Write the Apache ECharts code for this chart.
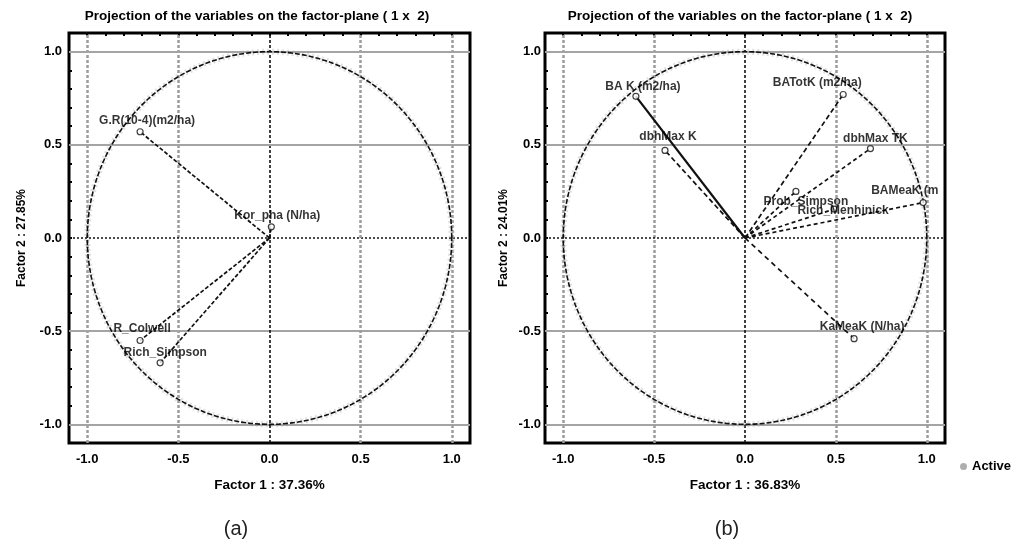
<!DOCTYPE html>
<html>
<head>
<meta charset="utf-8">
<script src="https://cdn.jsdelivr.net/npm/echarts@6/dist/echarts.min.js"></script>
<style>
  html, body { margin: 0; padding: 0; background: #fff; }
  #chart { width: 1026px; height: 544px; }
</style>
</head>
<body>
<div id="chart"></div>
<script>
// axis values
const axisRange = [-1.1, 1.1];
const tickLabels = [-1.0, -0.5, 0.0, 0.5, 1.0];
const minorTicks = [-1.0, -0.9, -0.8, -0.7, -0.6, -0.5, -0.4, -0.3, -0.2, -0.1, 0.0,
  0.1, 0.2, 0.3, 0.4, 0.5, 0.6, 0.7, 0.8, 0.9, 1.0];
const circleRadius = 1;

const panelTitle = 'Projection of the variables on the factor-plane ( 1 x  2)';
const xNames = ['Factor 1 : 37.36%', 'Factor 1 : 36.83%'];
const yNames = ['Factor 2 : 27.85%', 'Factor 2 : 24.01%'];
const captions = ['(a)', '(b)'];

// panel (a)
const leftNames = ['G.R(10-4)(m2/ha)', 'Kor_pha (N/ha)', 'R_Colwell', 'Rich_Simpson'];
const leftX = [-0.71, 0.01, -0.71, -0.60];
const leftY = [0.57, 0.06, -0.55, -0.67];

// panel (b)
const rightNames = ['BA K (m2/ha)', 'BATotK (m2/ha)', 'dbhMax K', 'dbhMax TK',
  'BAMeaK (m2/ha)', 'Prob_Simpson', 'Rich_Menhinick', 'KaMeaK (N/ha)'];
const rightX = [-0.60, 0.54, -0.44, 0.69, 0.98, 0.28, 0.49, 0.60];
const rightY = [0.76, 0.77, 0.47, 0.48, 0.19, 0.25, 0.155, -0.54];

// label placement / line look, per panel
const leftOffsets = [[7, -11], [6, -11], [2, -12], [5, -10]];
const rightOffsets = [[7, -10], [-26, -12], [3, -14], [5, -10], [-52, -12], [10, 10], [9, 2], [8, -12]];
const leftDash = [[4, 2], [4, 2], [4, 2], [4, 2]];
const rightDash = [null, [5, 3], [5, 3], [4, 3], [4, 3], [4, 3], [4, 3], [5, 4]];

const FONT = '"Liberation Sans", Arial, sans-serif';
const grids = [
  { left: 69, top: 33, width: 401, height: 410 },
  { left: 545, top: 33, width: 400, height: 410 }
];

const myChart = echarts.init(document.getElementById('chart'), null, { renderer: 'canvas' });

function gridMarkLines() {
  const out = [];
  tickLabels.forEach(function (v) {
    if (v === 0) {
      const zeroStyle = { color: '#111', width: 1.6, type: [3, 2] };
      out.push([{ coord: [v, axisRange[0]], lineStyle: zeroStyle }, { coord: [v, axisRange[1]] }]);
      out.push([{ coord: [axisRange[0], v], lineStyle: { color: '#111', width: 1.5, type: [2, 2] } },
        { coord: [axisRange[1], v] }]);
    } else {
      out.push({ xAxis: v, lineStyle: { color: '#9c9c9c', width: 2.5, type: [3, 2] } });
      out.push({ yAxis: v, lineStyle: { color: '#a4a4a4', width: 2, type: 'solid' } });
    }
  });
  return out;
}

const xAxis = [], yAxis = [], series = [], title = [];
const boldText = function (size) {
  return { color: '#000', fontWeight: 'bold', fontSize: size, fontFamily: FONT };
};

[0, 1].forEach(function (p) {
  const names = p === 0 ? leftNames : rightNames;
  const xs = p === 0 ? leftX : rightX;
  const ys = p === 0 ? leftY : rightY;
  const offs = p === 0 ? leftOffsets : rightOffsets;
  const dashes = p === 0 ? leftDash : rightDash;

  xAxis.push({
    type: 'value', gridIndex: p, position: 'bottom',
    min: axisRange[0], max: axisRange[1],
    axisLine: { show: false, onZero: false },
    axisTick: { show: false },
    splitLine: { show: false },
    axisLabel: Object.assign({
      customValues: tickLabels, margin: 10,
      formatter: function (v) { return v.toFixed(1); }
    }, boldText(13)),
    name: xNames[p], nameLocation: 'middle', nameGap: 35,
    nameTextStyle: boldText(13.5)
  });
  xAxis.push({
    type: 'value', gridIndex: p, position: 'top',
    min: axisRange[0], max: axisRange[1],
    axisLine: { show: false, onZero: false },
    axisTick: { show: true, inside: true, length: 3, customValues: minorTicks,
      lineStyle: { color: '#000', width: 2 } },
    axisLabel: { show: false },
    splitLine: { show: false }
  });
  yAxis.push({
    type: 'value', gridIndex: p, position: 'left',
    min: axisRange[0], max: axisRange[1],
    axisLine: { show: false, onZero: false },
    axisTick: { show: true, inside: true, length: 3, customValues: minorTicks,
      lineStyle: { color: '#000', width: 2 } },
    splitLine: { show: false },
    axisLabel: Object.assign({
      customValues: tickLabels, margin: p === 0 ? 7 : 4,
      formatter: function (v) { return v.toFixed(1); }
    }, boldText(13)),
    name: yNames[p], nameLocation: 'middle', nameGap: p === 0 ? 41 : 35,
    nameTextStyle: boldText(12)
  });

  // unit circle + grid lines
  series.push({
    type: 'custom', xAxisIndex: 2 * p, yAxisIndex: p, data: [[0, 0]],
    silent: true, z: 2, clip: false,
    renderItem: function (params, api) {
      const pts = [];
      for (let a = 0; a <= 360; a += 3) {
        const t = a * Math.PI / 180;
        pts.push(api.coord([circleRadius * Math.cos(t), circleRadius * Math.sin(t)]));
      }
      return {
        type: 'group',
        children: [
          { type: 'polyline', shape: { points: pts },
            style: { fill: null, stroke: 'rgba(170,170,170,0.35)', lineWidth: 6, lineDash: [2, 3] } },
          { type: 'polyline', shape: { points: pts },
            style: { fill: null, stroke: '#111', lineWidth: 1.6, lineDash: [5, 2] } }
        ]
      };
    },
    markLine: {
      silent: true, symbol: 'none', z: 1,
      label: { show: false },
      data: gridMarkLines()
    }
  });

  // vectors from origin
  series.push({
    type: 'custom', xAxisIndex: 2 * p, yAxisIndex: p, silent: true, z: 3,
    data: xs.map(function (x, i) { return [x, ys[i]]; }),
    renderItem: function (params, api) {
      const o = api.coord([0, 0]);
      const e = api.coord([api.value(0), api.value(1)]);
      const dash = dashes[params.dataIndex];
      return {
        type: 'line',
        shape: { x1: o[0], y1: o[1], x2: e[0], y2: e[1] },
        style: { stroke: '#111', lineWidth: dash ? 1.7 : 2.2, lineDash: dash || null }
      };
    }
  });

  // points and labels
  series.push({
    name: 'Active', type: 'scatter', xAxisIndex: 2 * p, yAxisIndex: p, z: 4,
    symbol: 'circle', symbolSize: 6,
    itemStyle: { color: '#fff', borderColor: '#111', borderWidth: 1.2 },
    data: xs.map(function (x, i) {
      const clipped = p === 1 && i === 4;
      return {
        value: [x, ys[i]],
        label: clipped
          ? { offset: offs[i], align: 'left', width: 74, overflow: 'truncate', ellipsis: '' }
          : { offset: offs[i] }
      };
    }),
    label: Object.assign({
      show: true, position: 'inside',
      formatter: function (prm) { return names[prm.dataIndex]; }
    }, boldText(12))
  });

  title.push({
    text: panelTitle, left: p === 0 ? 252 : 735, top: 4, textAlign: 'center',
    textStyle: boldText(13.5)
  });
  title.push({
    text: captions[p], left: p === 0 ? 231 : 722, top: 514, textAlign: 'center',
    textStyle: { color: '#222', fontWeight: 'normal', fontSize: 20, fontFamily: FONT }
  });
});

const option = {
  animation: false,
  backgroundColor: '#fff',
  title: title,
  legend: {
    data: ['Active'], left: 955, top: 455, icon: 'circle',
    itemWidth: 7, itemHeight: 7, itemGap: 8,
    itemStyle: { color: '#9a9a9a', borderWidth: 0 },
    textStyle: boldText(13)
  },
  grid: grids.map(function (g) {
    return Object.assign({ show: true, borderColor: '#000', borderWidth: 3,
      backgroundColor: '#fff', containLabel: false }, g);
  }),
  xAxis: xAxis,
  yAxis: yAxis,
  series: series
};

myChart.setOption(option);
</script>
</body>
</html>
